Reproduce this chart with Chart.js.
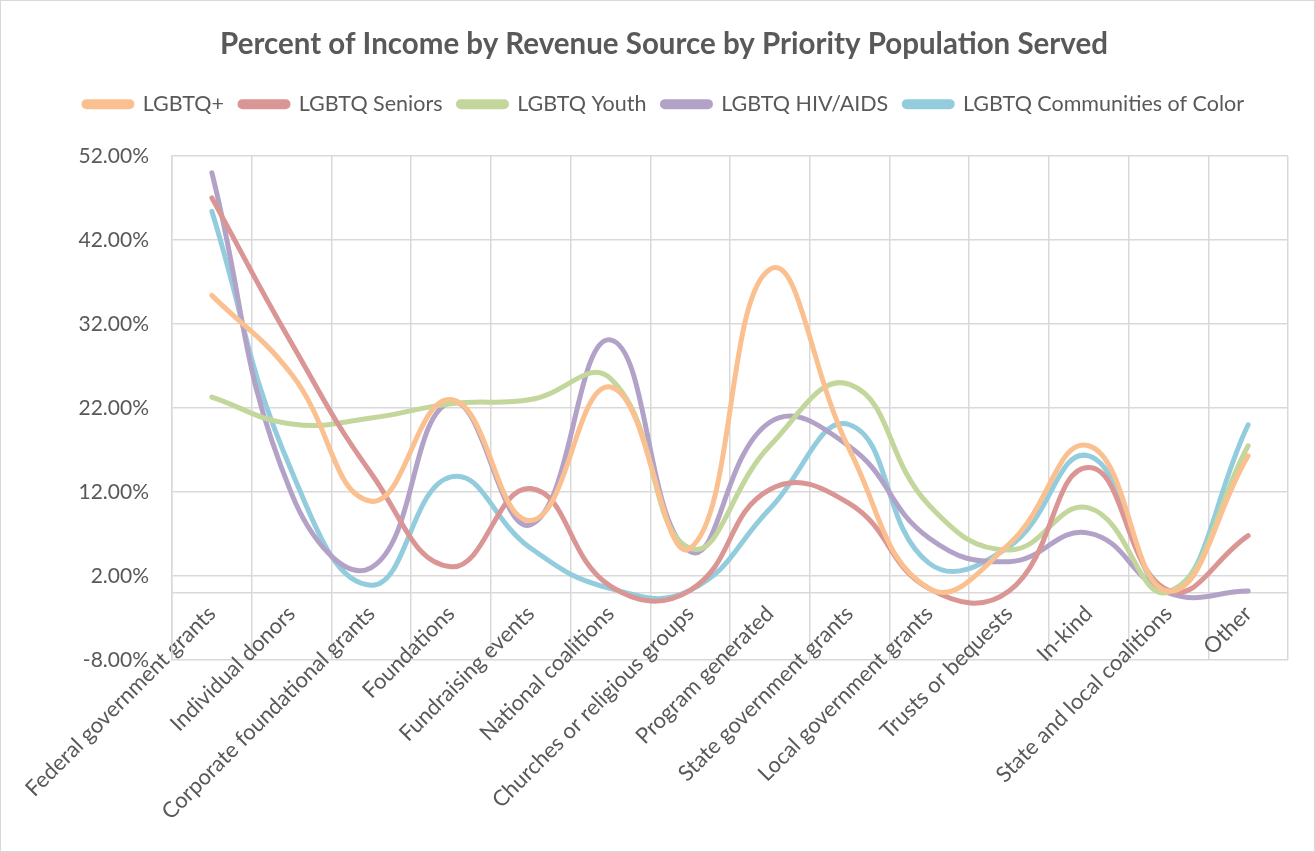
<!DOCTYPE html>
<html>
<head>
<meta charset="utf-8">
<script src="https://cdn.jsdelivr.net/npm/chart.js@4/dist/chart.umd.min.js"></script>
<style>
  html, body { margin: 0; padding: 0; background: #fff; }
  #wrap { width: 1313px; height: 850px; border: 1px solid #d9d9d9; }
</style>
</head>
<body>
<div id="wrap"><canvas id="incomeChart" width="1313" height="850"></canvas></div>
<script>
const categories = [
	'Federal government grants', 'Individual donors', 'Corporate foundational grants',
	'Foundations', 'Fundraising events', 'National coalitions', 'Churches or religious groups',
	'Program generated', 'State government grants', 'Local government grants',
	'Trusts or bequests', 'In-kind', 'State and local coalitions', 'Other'
];

// values in percent
const lgbtqPlus = [35.4, 26.0, 10.9, 23.0, 8.6, 24.5, 5.3, 38.5, 17.0, 0.5, 5.8, 17.5, 0.2, 16.3];
const lgbtqSeniors = [47.0, 29.7, 14.2, 3.1, 12.4, 0.8, 0.3, 12.3, 10.6, 0.5, 0.2, 14.9, 0.3, 6.8];
const lgbtqYouth = [23.3, 20.1, 20.8, 22.5, 23.0, 25.5, 5.3, 17.5, 24.8, 10.4, 5.1, 10.1, 0.1, 17.5];
const lgbtqHiv = [50.0, 11.8, 3.0, 22.7, 8.1, 30.1, 4.9, 20.3, 17.4, 6.5, 3.7, 7.1, 0.0, 0.2];
const lgbtqColor = [45.4, 14.5, 0.9, 13.8, 5.3, 0.5, 0.3, 10.0, 20.0, 3.5, 5.5, 16.3, 0.2, 20.0];

const seriesNames = ['LGBTQ+', 'LGBTQ Seniors', 'LGBTQ Youth', 'LGBTQ HIV/AIDS', 'LGBTQ Communities of Color'];
const seriesColors = ['#FAC090', '#D99694', '#C3D69B', '#B3A2C7', '#93CDDD'];
const yTicks = [-8, 2, 12, 22, 32, 42, 52];

const textColor = '#595959';
const gridColor = '#d9d9d9';

const seriesData = [lgbtqPlus, lgbtqSeniors, lgbtqYouth, lgbtqHiv, lgbtqColor];
const datasets = seriesData.map((values, i) => ({
	label: seriesNames[i],
	data: values,
	borderColor: seriesColors[i],
	backgroundColor: seriesColors[i],
	borderWidth: 5,
	pointRadius: 0,
	tension: 0.45,
	borderCapStyle: 'round',
	fill: false,
}));

// leave a gap between the legend and the plot, like the original
const legendSpacing = {
	id: 'legendSpacing',
	beforeLayout: (chart) => {
		const legend = chart.legend;
		if (legend && !legend._spaced) {
			const fit = legend.fit;
			legend.fit = function () {
				fit.call(this);
				this.height += 31;
			};
			legend._spaced = true;
		}
	},
};

const config = {
	type: 'line',
	data: { labels: categories, datasets: datasets },
	plugins: [legendSpacing],
	options: {
		responsive: false,
		animation: false,
		layout: { padding: { left: 39, right: 26, top: 0, bottom: 191 } },
		plugins: {
			title: {
				display: true,
				text: 'Percent of Income by Revenue Source by Priority Population Served',
				color: textColor,
				font: { family: 'Lato', size: 29.5, weight: 'bold' },
				padding: { top: 26, bottom: 15 },
			},
			legend: {
				position: 'top',
				labels: {
					color: textColor,
					font: { family: 'Lato', size: 21.5 },
					boxWidth: 48,
					boxHeight: 5,
					useBorderRadius: true,
					borderRadius: 2.5,
					padding: 16,
				},
			},
			tooltip: { enabled: false },
		},
		scales: {
			x: {
				position: { y: 0 },
				offset: true,
				// labels may hang over the left edge area, don't push the plot right
				afterFit: (scale) => {
					scale.paddingLeft = 0;
					scale.paddingRight = 0;
				},
				grid: { color: gridColor, lineWidth: 1.5, offset: true, drawTicks: false },
				border: { color: gridColor, width: 1.5 },
				ticks: {
					color: textColor,
					font: { family: 'Lato', size: 22 },
					minRotation: 45,
					maxRotation: 45,
					padding: 8,
					autoSkip: false,
				},
			},
			y: {
				min: -8,
				max: 52,
				afterBuildTicks: (scale) => {
					scale.ticks = yTicks.map((v) => ({ value: v }));
				},
				afterFit: (scale) => {
					scale.width = 132;
				},
				grid: { color: gridColor, lineWidth: 1.5, drawTicks: false },
				border: { color: gridColor, width: 1.5 },
				ticks: {
					color: textColor,
					font: { family: 'Lato', size: 21 },
					padding: 23,
					callback: (v) => v.toFixed(2) + '%',
				},
			},
		},
	},
};

const ctx = document.getElementById('incomeChart').getContext('2d');
const incomeChart = new Chart(ctx, config);
</script>
</body>
</html>
